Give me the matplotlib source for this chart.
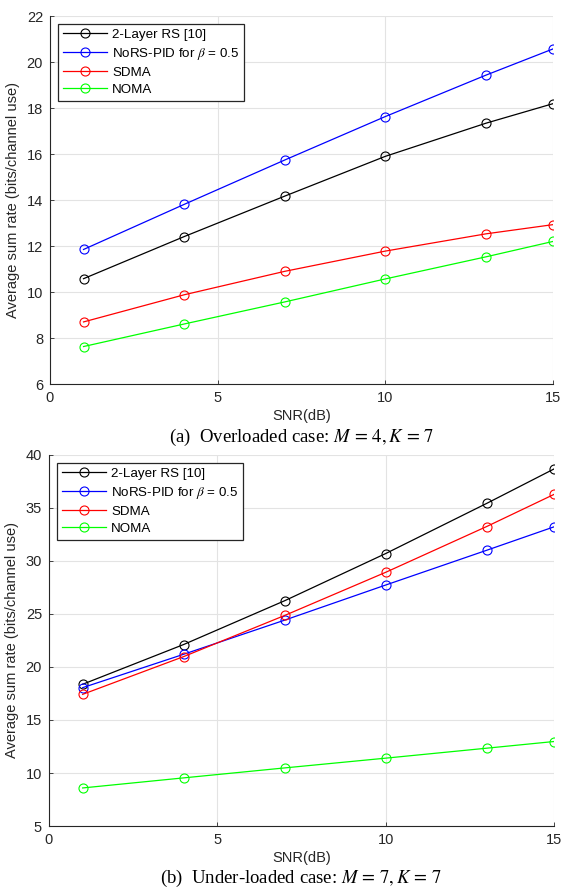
import matplotlib
matplotlib.use("Agg")
import matplotlib.pyplot as plt

# ==========================
# DATA
# ==========================

snr = [1, 4, 7, 10, 13, 15]
labels = ["2-Layer RS [10]", r"NoRS-PID for $\beta$ = 0.5", "SDMA", "NOMA"]
colors = ["black", "blue", "red", "#00ff00"]

# (a) overloaded case M=4, K=7
over_rs = [10.58, 12.41, 14.17, 15.90, 17.34, 18.19]
over_nors = [11.85, 13.81, 15.74, 17.63, 19.43, 20.57]
over_sdma = [8.70, 9.88, 10.90, 11.78, 12.53, 12.93]
over_noma = [7.63, 8.61, 9.57, 10.57, 11.53, 12.20]

# (b) under-loaded case M=7, K=7
under_rs = [18.37, 22.12, 26.25, 30.70, 35.43, 38.68]
under_nors = [18.05, 21.20, 24.42, 27.73, 31.01, 33.22]
under_sdma = [17.42, 20.98, 24.86, 28.93, 33.25, 36.28]
under_noma = [8.59, 9.54, 10.48, 11.40, 12.34, 12.97]

plt.rcParams["font.family"] = ["Liberation Sans", "DejaVu Sans"]
plt.rcParams["mathtext.fontset"] = "stix"

fig = plt.figure(figsize=(5.63, 8.90), dpi=100)
ax1 = fig.add_axes([0.0888, 0.5685, 0.8935, 0.4135])
ax2 = fig.add_axes([0.0870, 0.0719, 0.8970, 0.4169])


def draw(ax, series, ylim, yticks, caption, cap_y):
    for vals, lab, col in zip(series, labels, colors):
        ax.plot(snr, vals, color=col, lw=0.9, marker="o", ms=6.5,
                mfc="none", mec=col, mew=0.8, label=lab)
    ax.set_xlim(0, 15)
    ax.set_ylim(*ylim)
    ax.set_xticks([0, 5, 10, 15])
    ax.set_yticks(yticks)
    ax.grid(True, color="#e3e3e3", lw=0.8)
    ax.set_axisbelow(True)
    for s in ["top", "right"]:
        ax.spines[s].set_visible(False)
    for s in ["left", "bottom"]:
        ax.spines[s].set_color("#262626")
        ax.spines[s].set_linewidth(0.8)
    ax.tick_params(direction="in", length=3, width=0.6, colors="#262626",
                   labelsize=10.5, pad=5)
    ax.set_xlabel("SNR(dB)", fontsize=10.5, color="#262626", labelpad=3)
    ax.set_ylabel("Average sum rate (bits/channel use)", fontsize=10.5,
                  color="#262626", labelpad=5)
    leg = ax.legend(loc="upper left", fontsize=9.6, fancybox=False,
                    framealpha=1, edgecolor="#262626", borderaxespad=0.6,
                    handlelength=3.3, labelspacing=0.36, borderpad=0.35,
                    handletextpad=0.4)
    leg.get_frame().set_linewidth(0.9)
    ax.text(0.5, cap_y, caption, transform=ax.transAxes, ha="center",
            va="center", fontsize=13.5,
            family=["Liberation Serif", "DejaVu Serif"])


draw(ax1, [over_rs, over_nors, over_sdma, over_noma], (6, 22),
     range(6, 23, 2), r"(a)  Overloaded case: $M\,=\,4, K\,=\,7$", -0.144)
draw(ax2, [under_rs, under_nors, under_sdma, under_noma], (5, 40),
     range(5, 41, 5), r"(b)  Under-loaded case: $M\,=\,7, K\,=\,7$", -0.141)

plt.savefig("out.png", dpi=100)
